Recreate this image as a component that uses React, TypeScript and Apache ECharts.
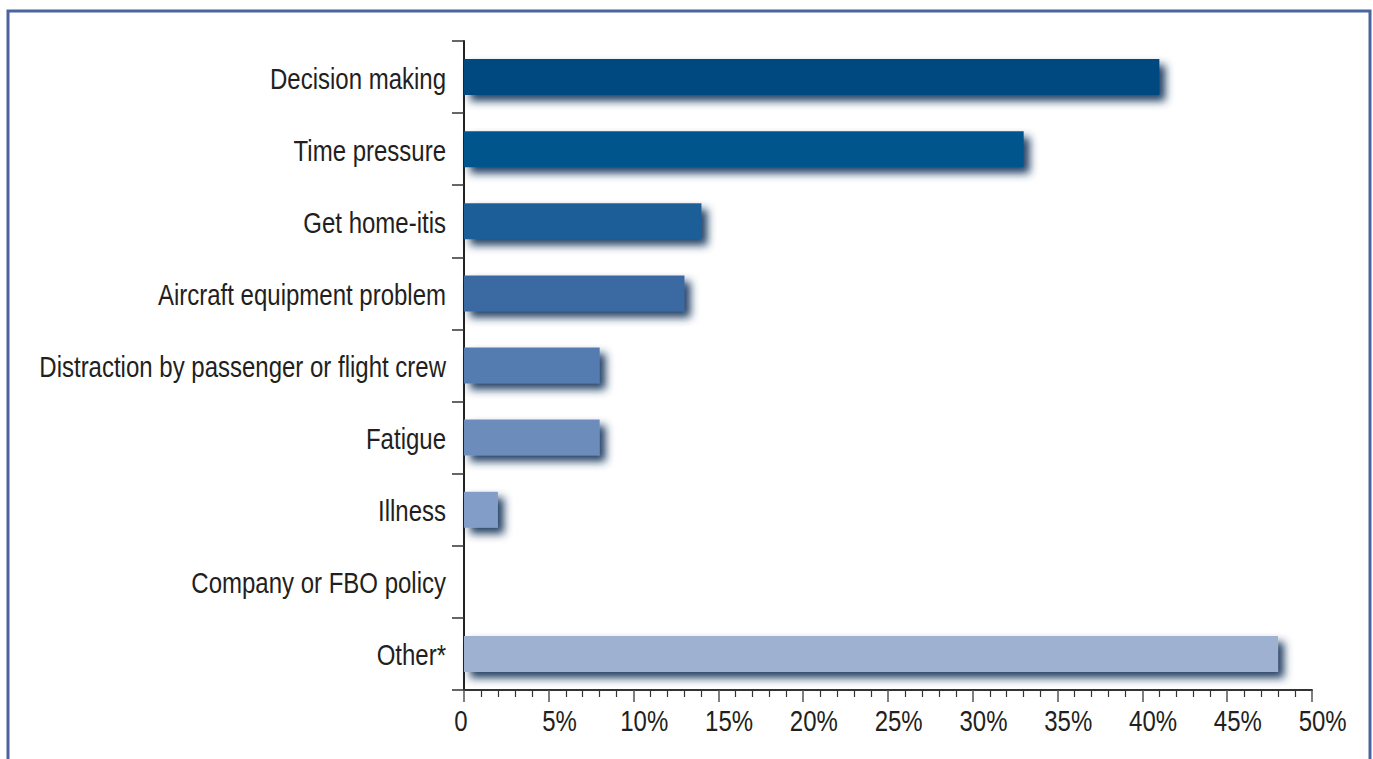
import React, { useEffect, useRef } from "react";
import * as echarts from "echarts";

const categories = [
  "Decision making",
  "Time pressure",
  "Get home-itis",
  "Aircraft equipment problem",
  "Distraction by passenger or flight crew",
  "Fatigue",
  "Illness",
  "Company or FBO policy",
  "Other*",
];
const values = [41, 33, 14, 13, 8, 8, 2, 0, 48];
const barColors = [
  "#034a80",
  "#03548c",
  "#1f5f98",
  "#3a6ba3",
  "#557bb0",
  "#6c8dbb",
  "#829ec8",
  "#92a9cf",
  "#9eb1d1",
];
const xTickValues = [0, 5, 10, 15, 20, 25, 30, 35, 40, 45, 50];
const xTickLabels = ["0", "5%", "10%", "15%", "20%", "25%", "30%", "35%", "40%", "45%", "50%"];

const FONT_FAMILY = "'Liberation Sans', Arial, sans-serif";
const FONT_SIZE = 30;
const NARROW = 0.8;
const TEXT_COLOR = "#231f20";

export default function App() {
  const ref = useRef<HTMLDivElement>(null);
  useEffect(() => {
    const chart = echarts.init(ref.current!, null, { renderer: "svg" });
    const border = {
      type: "rect",
      id: "border",
      shape: { x: 8, y: 11, width: 1362, height: 800 },
      style: { fill: "none", stroke: "#4a64a0", lineWidth: 3 },
      silent: true,
    };
    chart.setOption({
      animation: false,
      backgroundColor: "#ffffff",
      graphic: [border],
      grid: { left: 464, right: 61, top: 41, bottom: 69, outerBoundsMode: "none", containLabel: false },
      xAxis: {
        type: "value",
        min: 0,
        max: 50,
        interval: 5,
        splitLine: { show: false },
        axisLine: { show: true, lineStyle: { color: "#333333", width: 2 } },
        axisTick: { show: true, length: 12, lineStyle: { color: "#555555", width: 1.5 } },
        minorTick: { show: true, splitNumber: 5, length: 7, lineStyle: { color: "#333333", width: 1.2 } },
        axisLabel: { show: false },
      },
      yAxis: {
        type: "category",
        data: categories,
        inverse: true,
        axisLine: { show: true, lineStyle: { color: "#222222", width: 2 } },
        axisTick: { show: true, length: 12, lineStyle: { color: "#333333", width: 1.5 } },
        axisLabel: { show: false },
      },
      series: [
        {
          type: "bar",
          barWidth: 36,
          data: values.map((v, i) => ({
            value: v,
            itemStyle: {
              color: barColors[i],
              shadowColor: v === 0 ? "transparent" : "rgba(22,52,92,0.95)",
              shadowBlur: 8,
              shadowOffsetX: 6,
              shadowOffsetY: 6,
            },
          })),
        },
      ],
    });

    const x0 = chart.convertToPixel({ xAxisIndex: 0 }, 0) as number;
    const yBottom = chart.convertToPixel({ yAxisIndex: 0 }, categories.length - 1) as number;
    const bandHalf =
      ((chart.convertToPixel({ yAxisIndex: 0 }, 1) as number) -
        (chart.convertToPixel({ yAxisIndex: 0 }, 0) as number)) /
      2;
    const axisY = yBottom + bandHalf;
    const digitW = 0.556 * FONT_SIZE * NARROW;

    const font = `${FONT_SIZE}px ${FONT_FAMILY}`;
    const yLabels = categories.map((c, i) => ({
      type: "text",
      x: x0 - 18,
      y: (chart.convertToPixel({ yAxisIndex: 0 }, i) as number) + 1,
      scaleX: NARROW,
      silent: true,
      style: { text: c, font, fill: TEXT_COLOR, align: "right", verticalAlign: "middle" },
    }));
    const xLabels = xTickValues.map((v, i) => {
      const px = chart.convertToPixel({ xAxisIndex: 0 }, v) as number;
      const numLen = String(v).length;
      const shift = v === 0 ? -3 : 0;
      return {
        type: "text",
        x: px - (numLen * digitW) / 2 + shift,
        y: axisY + 31,
        scaleX: NARROW,
        silent: true,
        style: { text: xTickLabels[i], font, fill: TEXT_COLOR, align: "left", verticalAlign: "middle" },
      };
    });
    chart.setOption({ graphic: [border, ...yLabels, ...xLabels] }, { replaceMerge: ["graphic"] });

    return () => chart.dispose();
  }, []);
  return (
    <div
      ref={ref}
      style={{ position: "fixed", left: 0, top: 0, width: 1373, height: 759 }}
    />
  );
}
